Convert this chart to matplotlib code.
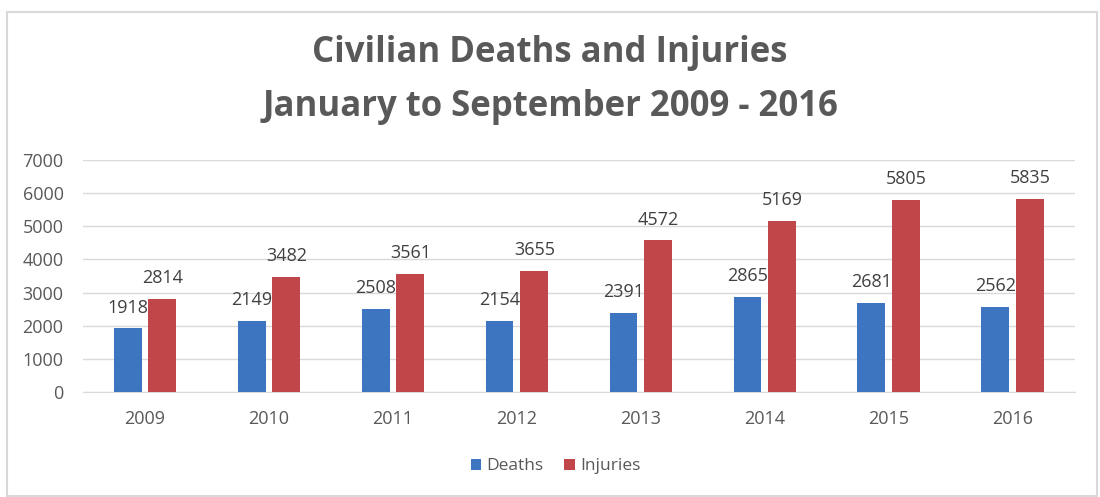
import matplotlib.pyplot as plt
from matplotlib.patches import Rectangle
import numpy as np

plt.rcParams['font.family'] = ['Open Sans', 'DejaVu Sans']

years = ['2009', '2010', '2011', '2012', '2013', '2014', '2015', '2016']
deaths = [1918, 2149, 2508, 2154, 2391, 2865, 2681, 2562]
injuries = [2814, 3482, 3561, 3655, 4572, 5169, 5805, 5835]

BLUE = '#3D75C0'
RED = '#C0464A'
GRID = '#D9D9D9'
TEXT = '#595959'

fig = plt.figure(figsize=(11, 4.97), dpi=100)
fig.patches.append(Rectangle((0.0065, 0.003), 0.9905, 0.973, transform=fig.transFigure,
                             fill=False, edgecolor='#D9D9D9', linewidth=1.5))

ax = fig.add_axes([0.0755, 0.2113, 0.9015, 0.4667])

x = np.arange(len(years))
w = 0.225
off = 0.14
b1 = ax.bar(x - off, deaths, w, color=BLUE, label='Deaths', zorder=3)
b2 = ax.bar(x + off, injuries, w, color=RED, label='Injuries', zorder=3)

# value labels above each bar
for bars, vals in ((b1, deaths), (b2, injuries)):
    for rect, v in zip(bars, vals):
        ax.annotate(str(v), (rect.get_x() + rect.get_width() / 2, v), xytext=(0, 15),
                    textcoords='offset points', ha='center', va='center',
                    fontsize=13, color='#404040')

ax.set_xlim(-0.5, len(years) - 0.5)
ax.set_ylim(0, 7000)
ax.set_yticks(range(0, 7001, 1000))
ax.set_xticks(x)
ax.set_xticklabels(years)
ax.yaxis.grid(True, color=GRID, linewidth=1)
ax.set_axisbelow(True)
for s in ['top', 'right', 'left']:
    ax.spines[s].set_visible(False)
ax.spines['bottom'].set_color(GRID)
ax.tick_params(length=0, labelsize=13, labelcolor=TEXT)
ax.tick_params(axis='x', pad=13)
ax.tick_params(axis='y', pad=14)

fig.text(0.5, 0.893, 'Civilian Deaths and Injuries', ha='center', va='center',
         fontsize=25, fontweight='bold', color=TEXT)
fig.text(0.5, 0.785, 'January to September 2009 - 2016', ha='center', va='center',
         fontsize=25, fontweight='bold', color=TEXT)

fig.legend(loc='center', bbox_to_anchor=(0.505, 0.062), ncol=2, frameon=False,
           fontsize=12.5, labelcolor=TEXT, handlelength=0.6, handleheight=0.6,
           handletextpad=0.3, columnspacing=1.2)

fig.savefig('out.png', dpi=100)
